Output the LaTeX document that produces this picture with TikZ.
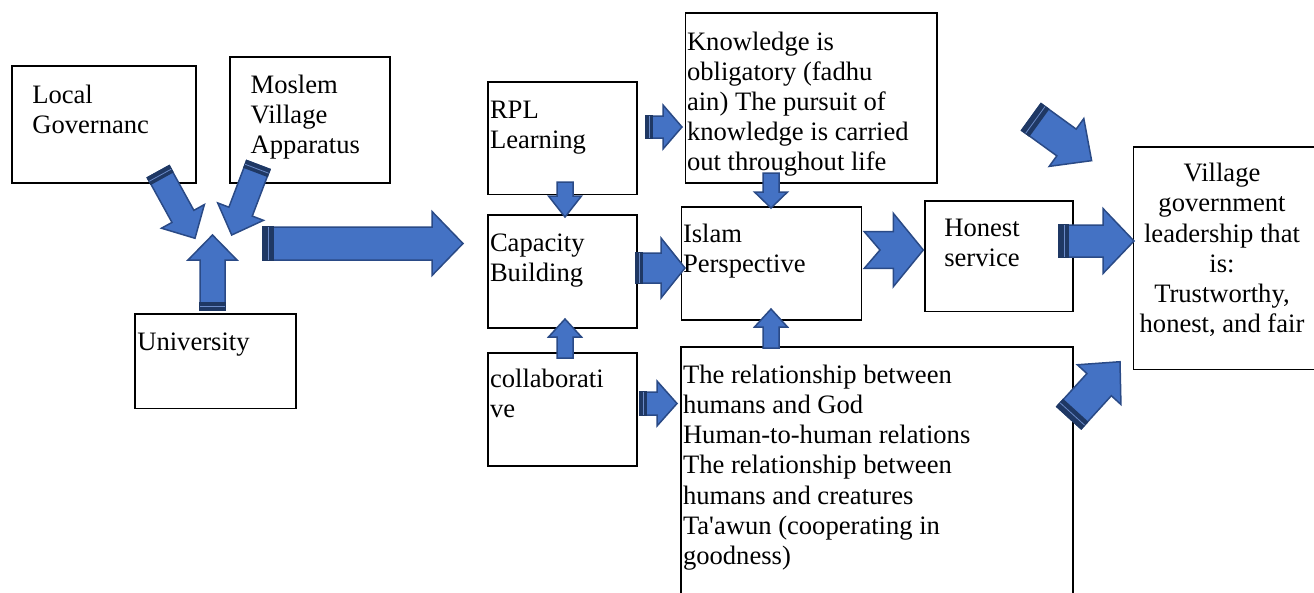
\documentclass[tikz,border=0pt]{standalone}
\usepackage{fontspec}
\setmainfont{Liberation Serif}
\usetikzlibrary{calc}
\definecolor{ablue}{HTML}{4472C4}
\definecolor{aline}{HTML}{2A4A86}
\definecolor{astripe}{HTML}{1F3864}
\definecolor{alight}{HTML}{6A8AC8}
\tikzset{
  box/.style={draw=black, line width=1.4pt, inner sep=0pt, outer sep=0pt},
  txt/.style={inner sep=0pt, outer sep=0pt, font=\fontsize{26.6}{30.2}\selectfont, align=left},
  blockarrow/.style={fill=ablue, draw=aline, line width=1.5pt, line join=miter},
}
% box: name, x1, y1, x2, y2
\newcommand\mybox[5]{\node[box, anchor=north west, minimum width={#4-#2}, minimum height={#5-#3}] (#1) at (#2,#3) {};}
% text: name, x, first baseline, text
\newcommand\mytext[4]{\node[txt, anchor=north west] (#1) at (#2,#3-21.14) {\strut #4};}
% block arrow: tail, tip, half shaft, half head, head length, stripe width
\newcommand\barrow[6]{%
  \path let \p1=($(#2)-(#1)$), \n1={atan2(\y1,\x1)}, \n2={veclen(\x1,\y1)} in
    \pgfextra{\xdef\barang{\n1}\xdef\barlen{\n2}};
  \begin{scope}[shift={(#1)}, rotate=\barang, x=1pt, y=1pt]
    \draw[blockarrow] (0,-#3) -- ({\barlen-#5},-#3) -- ({\barlen-#5},-#4) -- (\barlen,0)
      -- ({\barlen-#5},#4) -- ({\barlen-#5},#3) -- (0,#3) -- cycle;
    \ifdim #6pt>0pt
      \fill[astripe] (-0.75,{-#3-0.75}) rectangle (#6,{#3+0.75});
      \draw[alight, line width=0.8pt] ({#6/2},-#3) -- ({#6/2},#3);
    \fi
  \end{scope}}
\begin{document}
\begin{tikzpicture}[x=1pt, y=-1pt]
\useasboundingbox (0,0) rectangle (1314,592);
\clip (0,0) rectangle (1314,592);
% boxes
\mybox{loc}{12}{66}{196}{183}
\mybox{mos}{230}{57}{390}{183}
\mybox{uni}{135}{314}{296}{408.5}
\mybox{rpl}{488}{82}{637}{194.5}
\mybox{cap}{488}{215}{637}{328}
\mybox{col}{488}{353}{637}{466}
\mybox{kno}{685.5}{13}{937}{183}
\mybox{isl}{681.5}{207}{861.5}{320}
\mybox{rel}{681}{347}{1073}{620}
\mybox{hon}{925}{201}{1073}{311.5}
\mybox{vil}{1133.5}{147}{1330}{369.5}
% arrow end points
\coordinate (aT) at (158.3,171.7);  \coordinate (aH) at (195,238.3);
\coordinate (bT) at (258.3,165);    \coordinate (bH) at (231.7,235);
\coordinate (cT) at (212.5,310);    \coordinate (cH) at (212.5,235);
\coordinate (dT) at (263,243.5);    \coordinate (dH) at (463,243.5);
\coordinate (eT) at (646,127);      \coordinate (eH) at (682,127);
\coordinate (fT) at (565,182);      \coordinate (fH) at (565,217);
\coordinate (gT) at (565,358);      \coordinate (gH) at (565,319);
\coordinate (hT) at (636,268);      \coordinate (hH) at (685,268);
\coordinate (iT) at (771,173);      \coordinate (iH) at (771,208);
\coordinate (jT) at (771,348);      \coordinate (jH) at (771,309);
\coordinate (lT) at (640,403.5);    \coordinate (lH) at (677,403.5);
\coordinate (mT) at (1059,241);     \coordinate (mH) at (1134,241);
\coordinate (nT) at (1031.3,117);   \coordinate (nH) at (1091.7,160.7);
\coordinate (oT) at (1069,417.7);   \coordinate (oH) at (1120,361.7);
% arrows
\barrow{aT}{aH}{12.5}{24.5}{25}{8}
\barrow{bT}{bH}{12.5}{24.5}{25}{8}
\barrow{cT}{cH}{12.5}{24.5}{25}{8}
\barrow{dT}{dH}{16.5}{32}{31}{11}
\barrow{eT}{eH}{11}{22}{19}{7}
\barrow{fT}{fH}{8}{16.5}{21}{0}
\barrow{gT}{gH}{8}{16.5}{18}{0}
\barrow{hT}{hH}{15}{30}{24}{7}
\barrow{iT}{iH}{8}{16.5}{16}{0}
\barrow{jT}{jH}{8}{16.5}{18}{0}
\barrow{lT}{lH}{11.5}{22.5}{20}{7}
\barrow{mT}{mH}{16}{32.5}{31}{10}
\barrow{nT}{nH}{16.5}{29.5}{31}{10}
\barrow{oT}{oH}{16.5}{29.5}{31}{10}
% notched arrow Islam -> Honest
\coordinate (kT) at (880,250); \coordinate (kH) at (923.3,250);
\draw[blockarrow] (864.3,231.7) -- (893.3,231.7) -- (893.3,213.3) -- (kH)
  -- (893.3,286.7) -- (893.3,268.3) -- (864.3,268.3) -- (kT) -- cycle;
% texts
\mytext{tloc}{32.3}{103.5}{Local\\Governanc}
\mytext{tmos}{250.7}{93.3}{Moslem\\Village\\Apparatus}
\mytext{tuni}{137.3}{350}{University}
\mytext{trpl}{490}{118.5}{RPL\\Learning}
\mytext{tcap}{490}{251}{Capacity\\Building}
\mytext{tcol}{490}{387.7}{collaborati\\ve}
\mytext{tkno}{687}{50}{Knowledge is\\obligatory (fadhu\\ain) The pursuit of\\knowledge is carried\\out throughout life}
\mytext{tisl}{683}{242.7}{Islam\\Perspective}
\mytext{trel}{683}{383.3}{The relationship between\\humans and God\\Human-to-human relations\\The relationship between\\humans and creatures\\Ta\textquotesingle awun (cooperating in\\goodness)}
\mytext{thon}{944.3}{236.7}{Honest\\service}
\node[txt, align=center, anchor=north] (tvil) at (1222,181.7-21.14) {\strut Village\\government\\leadership that\\is:\\Trustworthy,\\honest, and fair};
\end{tikzpicture}
\end{document}
